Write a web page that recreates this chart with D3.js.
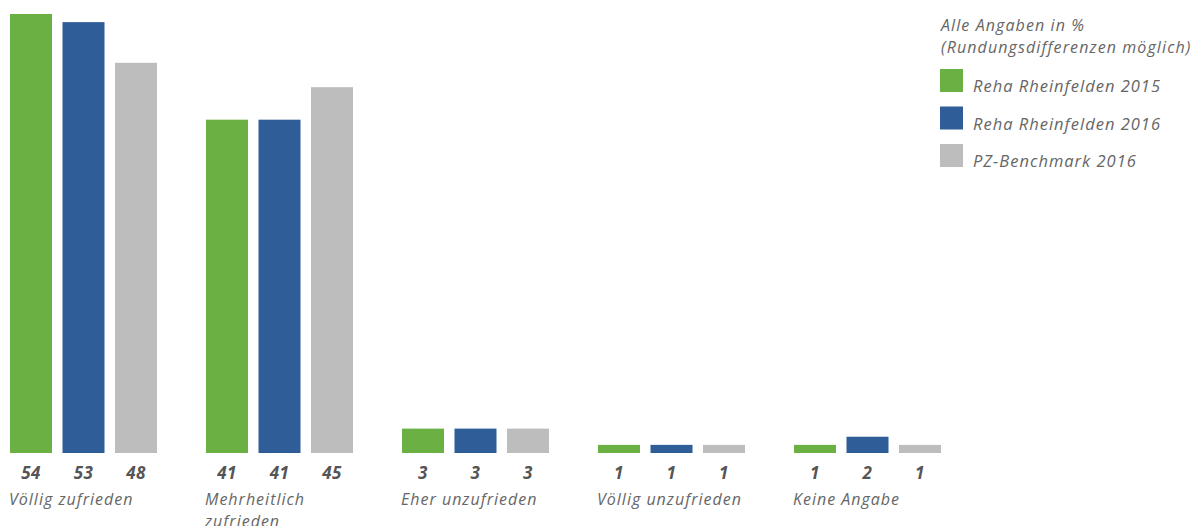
<!DOCTYPE html>
<html>
<head>
<meta charset="utf-8">
<script src="https://cdn.jsdelivr.net/npm/d3@7"></script>
<style>
  html, body { margin: 0; padding: 0; background: #fff; }
  svg { display: block; }
  text { font-family: "Open Sans", "Lato", sans-serif; font-style: italic; }
</style>
</head>
<body>
<svg id="chart" width="1200" height="526"></svg>
<script>
// Zufriedenheit: Anteile je Antwortkategorie in %
const categories = ["Völlig zufrieden", "Mehrheitlich zufrieden", "Eher unzufrieden", "Völlig unzufrieden", "Keine Angabe"];
const seriesNames = ["Reha Rheinfelden 2015", "Reha Rheinfelden 2016", "PZ-Benchmark 2016"];
const reha2015 = [54, 41, 3, 1, 1];
const reha2016 = [53, 41, 3, 1, 2];
const benchmark2016 = [48, 45, 3, 1, 1];
const seriesValues = [reha2015, reha2016, benchmark2016];
const colors = ["#6ab042", "#2f5d98", "#bdbdbd"];
const legendHeader = ["Alle Angaben in %", "(Rundungsdifferenzen möglich)"];

const svg = d3.select("#chart");
const baseline = 453;

const x0 = d3.scaleBand()
  .domain(categories)
  .range([10, 10 + 196 * categories.length])
  .paddingInner(0)
  .paddingOuter(0);

const x1 = d3.scaleBand()
  .domain(seriesNames)
  .range([0, 147])
  .paddingInner(10.5 / 52.5)
  .paddingOuter(0);

const y = d3.scaleLinear()
  .domain([0, 54])
  .range([baseline, 14]);

const rows = [];
categories.forEach((c, i) => {
  seriesNames.forEach((s, j) => {
    rows.push({ cat: c, series: s, value: seriesValues[j][i], color: colors[j] });
  });
});

const bars = svg.append("g");
bars.selectAll("rect")
  .data(rows)
  .join("rect")
  .attr("x", d => x0(d.cat) + x1(d.series))
  .attr("y", d => y(d.value))
  .attr("width", x1.bandwidth())
  .attr("height", d => baseline - y(d.value))
  .attr("fill", d => d.color);

// Wertbeschriftungen unter den Balken
svg.append("g").selectAll("text")
  .data(rows)
  .join("text")
  .attr("x", d => x0(d.cat) + x1(d.series) + x1.bandwidth() / 2)
  .attr("y", 479)
  .attr("text-anchor", "middle")
  .attr("font-size", 17)
  .attr("font-weight", 700)
  .attr("letter-spacing", 0.5)
  .attr("fill", "#555")
  .text(d => d.value);

// Kategorienamen, bei Bedarf umgebrochen
const catG = svg.append("g");
categories.forEach(c => {
  const t = catG.append("text")
    .attr("x", x0(c) - 1)
    .attr("y", 505)
    .attr("font-size", 16)
    .attr("letter-spacing", 1)
    .attr("fill", "#666");
  const words = c.split(" ");
  let line = [];
  let tspan = t.append("tspan").attr("x", x0(c) - 1).attr("dy", 0);
  words.forEach(w => {
    line.push(w);
    tspan.text(line.join(" "));
    if (tspan.node().getComputedTextLength() > 165 && line.length > 1) {
      line.pop();
      tspan.text(line.join(" "));
      line = [w];
      tspan = t.append("tspan").attr("x", x0(c) - 1).attr("dy", 22).text(w);
    }
  });
});

// Legende
const lg = svg.append("g");
legendHeader.forEach((h, i) => {
  lg.append("text")
    .attr("x", 941)
    .attr("y", 31 + i * 22)
    .attr("font-size", 16)
    .attr("letter-spacing", 1.1)
    .attr("fill", "#666")
    .text(h);
});
seriesNames.forEach((s, i) => {
  const yy = 69 + i * 37.5;
  lg.append("rect")
    .attr("x", 940).attr("y", yy)
    .attr("width", 23).attr("height", 23)
    .attr("fill", colors[i]);
  lg.append("text")
    .attr("x", 973)
    .attr("y", yy + 23)
    .attr("font-size", 16.5)
    .attr("letter-spacing", 1)
    .attr("fill", "#666")
    .text(s);
});
</script>
</body>
</html>
